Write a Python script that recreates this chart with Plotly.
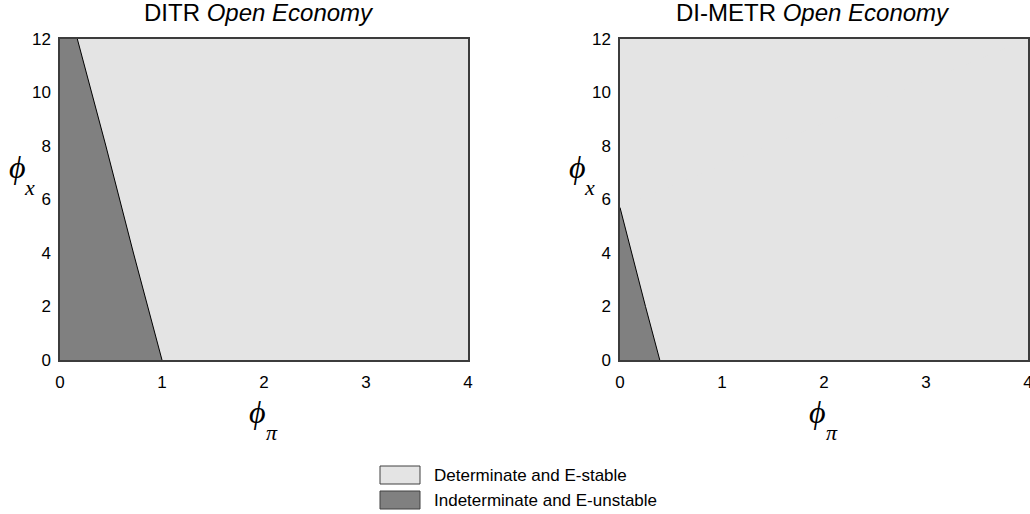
import plotly.graph_objects as go

# Boundary between the regions in (phi_pi, phi_x) space
ditr_phi_pi = [1.0, 0.72, 0.45, 0.31, 0.17]
ditr_phi_x = [0, 4, 8, 10, 12]
dimetr_phi_pi = [0.39, 0.25, 0.0]
dimetr_phi_x = [0, 2, 5.7]

x_range = [0, 4]
y_range = [0, 12]
x_ticks = [0, 1, 2, 3, 4]
y_ticks = [0, 2, 4, 6, 8, 10, 12]

titles = ["DITR <i>Open Economy</i>", "DI-METR <i>Open Economy</i>"]
legend_labels = ["Determinate and E-stable", "Indeterminate and E-unstable"]

LIGHT = "#e4e4e4"
DARK = "#808080"
W, H = 1030, 514

fig = go.Figure()

panels = [(ditr_phi_pi, ditr_phi_x, "x", "y"), (dimetr_phi_pi, dimetr_phi_x, "x2", "y2")]
for px, py, xa, ya in panels:
    # stable region: from the boundary out to the right edge
    fig.add_trace(go.Scatter(
        x=px + [x_range[1], x_range[1]] + [px[0]],
        y=py + [y_range[1], y_range[0]] + [py[0]],
        fill="toself", fillcolor=LIGHT, mode="none",
        xaxis=xa, yaxis=ya, showlegend=False, hoverinfo="skip"))
    # unstable region: between the phi_x axis and the boundary
    poly_x = px + [0, 0] + [px[0]]
    poly_y = py + [py[-1], 0] + [py[0]]
    fig.add_trace(go.Scatter(
        x=poly_x, y=poly_y, fill="toself", fillcolor=DARK, mode="none",
        xaxis=xa, yaxis=ya, showlegend=False, hoverinfo="skip"))
    fig.add_trace(go.Scatter(
        x=px, y=py, mode="lines", line=dict(color="black", width=1),
        xaxis=xa, yaxis=ya, showlegend=False, hoverinfo="skip"))

y_dom = [(H - 360) / H, (H - 39) / H]
axis_common = dict(showgrid=False, zeroline=False, showline=True, mirror=True,
                   linecolor="#3c3c3c", linewidth=1.5, ticks="", automargin=False,
                   ticklabeloverflow="allow",
                   tickfont=dict(family="Liberation Sans, Arial", size=17, color="black"))

fig.update_layout(
    width=W, height=H, margin=dict(l=0, r=0, t=0, b=0, autoexpand=False),
    paper_bgcolor="white", plot_bgcolor=LIGHT, showlegend=False,
    xaxis=dict(domain=[60 / W, 468 / W], range=x_range, tickvals=x_ticks,
               ticklabelstandoff=6, anchor="y", **axis_common),
    yaxis=dict(domain=y_dom, range=y_range, tickvals=y_ticks,
               ticklabelstandoff=4, anchor="x", **axis_common),
    xaxis2=dict(domain=[620 / W, 1028 / W], range=x_range, tickvals=x_ticks,
                ticklabelstandoff=6, anchor="y2", **axis_common),
    yaxis2=dict(domain=y_dom, range=y_range, tickvals=y_ticks,
                ticklabelstandoff=4, anchor="x2", **axis_common),
)

ann = []
sans = "Liberation Sans, Arial"
serif = "Liberation Serif, Times New Roman"


def at(x, y, text, size, family, **kw):
    ann.append(dict(x=x / W, y=1 - y / H, xref="paper", yref="paper", text=text,
                    showarrow=False, font=dict(family=family, size=size, color="black"),
                    xanchor=kw.get("xanchor", "center"), yanchor="middle"))


# panel titles
at(259, 12, titles[0], 24, sans)
at(813, 12, titles[1], 24, sans)

# axis titles (phi_x on the left of each panel, phi_pi below)
for dx in (0, 560):
    at(17 + dx, 167, "<i>ϕ</i>", 32, serif)
    at(29 + dx, 187, "<i>x</i>", 22, serif)
    at(257 + dx, 412, "<i>ϕ</i>", 32, serif)
    at(272 + dx, 432, "<i>π</i>", 22, serif)

# legend entries
shapes = []
for i, (lab, col) in enumerate(zip(legend_labels, [LIGHT, DARK])):
    y0 = 466 + i * 25
    shapes.append(dict(type="rect", xref="paper", yref="paper",
                       x0=380 / W, x1=420 / W, y0=1 - (y0 + 18) / H, y1=1 - y0 / H,
                       fillcolor=col, line=dict(color="#404040", width=1)))
    at(432, y0 + 9, lab, 17, sans, xanchor="left")

fig.update_layout(annotations=ann, shapes=shapes)
fig.write_html("out.html")
